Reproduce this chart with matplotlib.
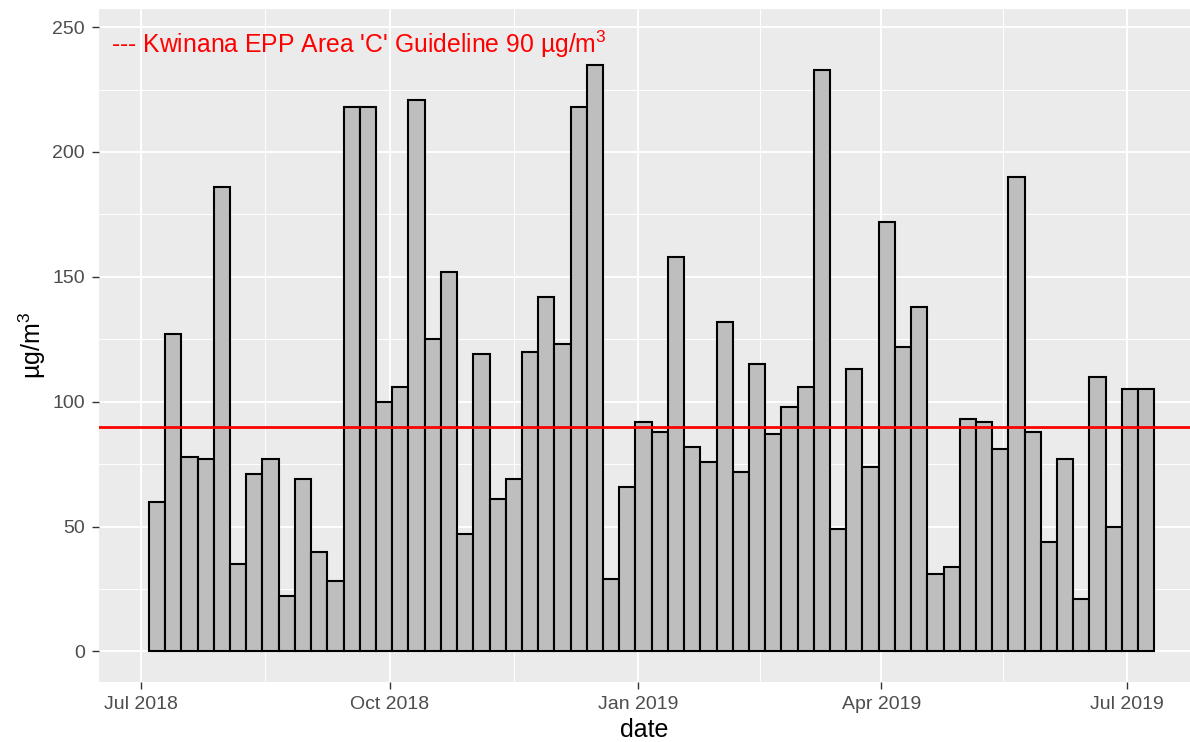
import matplotlib
matplotlib.use("Agg")
import matplotlib.pyplot as plt
import matplotlib.dates as mdates
import pandas as pd

# 1-in-6 day samples, Jul 2018 - Jul 2019
sample_dates = pd.date_range("2018-07-07", periods=62, freq="6D")
pm_values = [60, 127, 78, 77, 186, 35, 71, 77, 22, 69, 40, 28,
             218, 218, 100, 106, 221, 125, 152, 47, 119, 61, 69, 120,
             142, 123, 218, 235, 29, 66, 92, 88, 158, 82, 76, 132,
             72, 115, 87, 98, 106, 233, 49, 113, 74, 172, 122, 138,
             31, 34, 93, 92, 81, 190, 88, 44, 77, 21, 110, 50, 105, 105]

guideline = 90
guide_label = "--- Kwinana EPP Area 'C' Guideline 90 µg/m$^3$"
x_ticks = pd.to_datetime(["2018-07-01", "2018-10-01", "2019-01-01", "2019-04-01", "2019-07-01"])
x_minor = pd.to_datetime(["2018-08-16", "2018-11-16", "2019-02-15", "2019-05-16"])
y_ticks = [0, 50, 100, 150, 200, 250]
y_minor = [25, 75, 125, 175, 225]

plt.rcParams['font.family'] = ['Liberation Sans', 'DejaVu Sans']
plt.rcParams['mathtext.fontset'] = 'custom'
plt.rcParams['mathtext.rm'] = 'Liberation Sans'

fig = plt.figure(figsize=(11.9, 7.42), dpi=100)
ax = fig.add_axes([99 / 1190, 60 / 742, 1091 / 1190, 673 / 742])
ax.set_facecolor('#EBEBEB')
for s in ax.spines.values():
    s.set_visible(False)

ax.bar(sample_dates, pm_values, width=6, align='center',
       color='#BEBEBE', edgecolor='black', linewidth=1.5, zorder=2)
ax.axhline(guideline, color='red', linewidth=2, zorder=3)
ax.text(pd.Timestamp("2018-06-20"), 243, guide_label, color='red',
        fontsize=17.8, ha='left', va='center', zorder=4)

ax.set_xlim(pd.Timestamp("2018-06-15 12:00"), pd.Timestamp("2019-07-24 05:00"))
ax.set_ylim(-12.25, 257.25)

ax.set_xticks(x_ticks)
ax.set_xticks(x_minor, minor=True)
ax.xaxis.set_major_formatter(mdates.DateFormatter('%b %Y'))
ax.set_yticks(y_ticks)
ax.set_yticks(y_minor, minor=True)

ax.grid(which='major', color='white', linewidth=1.4, zorder=0)
ax.grid(which='minor', color='white', linewidth=0.7, zorder=0)
ax.set_axisbelow(True)

ax.tick_params(which='major', length=5, width=1, color='#333333',
               labelcolor='#4D4D4D', labelsize=14, pad=5)
ax.tick_params(which='minor', length=0)

ax.set_xlabel('date', fontsize=18, labelpad=4)
ax.set_ylabel('µg/m$^3$', fontsize=18, labelpad=3)

fig.savefig('out.png', dpi=100)
